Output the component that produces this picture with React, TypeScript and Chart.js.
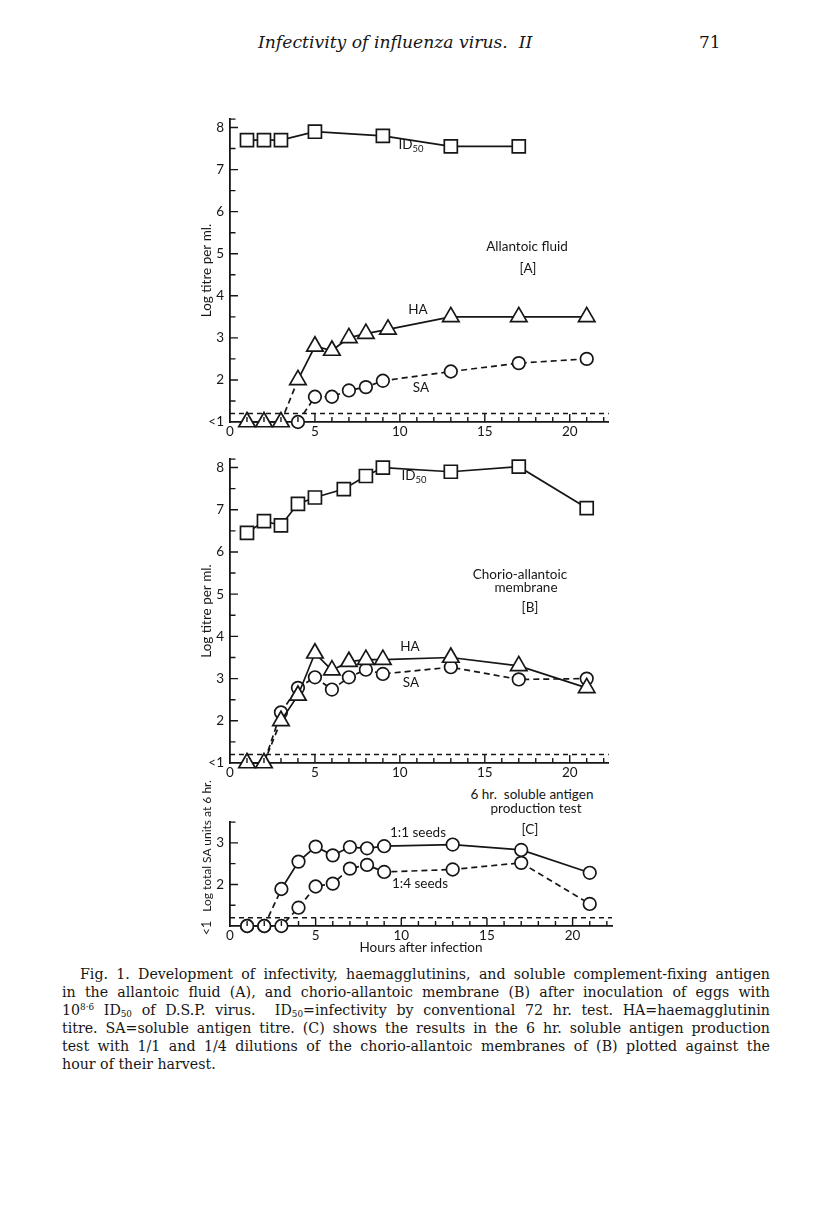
import React, { useEffect, useRef } from 'react';
import { Chart, registerables } from 'chart.js';
Chart.register(...registerables);

// ---------- DATA ----------
// Panel A: allantoic fluid
const hoursA_ID = [1, 2, 3, 5, 9, 13, 17];
const titreA_ID = [7.7, 7.7, 7.7, 7.9, 7.8, 7.55, 7.55];
const hoursA_HA = [1, 2, 3, 4, 5, 6, 7, 8, 9.3, 13, 17, 21];
const titreA_HA = [1, 1, 1, 2.0, 2.8, 2.7, 3.0, 3.1, 3.2, 3.5, 3.5, 3.5];
const hoursA_SA = [4, 5, 6, 7, 8, 9, 13, 17, 21];
const titreA_SA = [1, 1.6, 1.6, 1.75, 1.83, 1.98, 2.2, 2.4, 2.5];

// Panel B: chorio-allantoic membrane
const hoursB_ID = [1, 2, 3, 4, 5, 6.7, 8, 9, 13, 17, 21];
const titreB_ID = [6.45, 6.73, 6.63, 7.14, 7.29, 7.49, 7.8, 8.0, 7.9, 8.02, 7.04];
const hoursB_HA = [1, 2, 3, 4, 5, 6, 7, 8, 9, 13, 17, 21];
const titreB_HA = [1, 1, 2.0, 2.6, 3.6, 3.2, 3.4, 3.45, 3.45, 3.5, 3.3, 2.78];
const hoursB_SA = [1, 2, 3, 4, 5, 6, 7, 8, 9, 13, 17, 21];
const titreB_SA = [1, 1, 2.2, 2.78, 3.03, 2.74, 3.03, 3.21, 3.11, 3.27, 2.98, 3.0];

// Panel C: 6 hr soluble antigen production test
const hoursC = [1, 2, 3, 4, 5, 6, 7, 8, 9, 13, 17, 21];
const unitsC_11 = [1, 1, 1.89, 2.55, 2.91, 2.7, 2.9, 2.87, 2.92, 2.96, 2.83, 2.28];
const unitsC_14 = [1, 1, 1, 1.44, 1.95, 2.02, 2.38, 2.47, 2.3, 2.36, 2.52, 1.53];

// axes
const hourMin = 0;
const hourMax = 22.3;
const hourLabels = [0, 5, 10, 15, 20];
const titreMinAB = 1;
const titreMaxAB = 8.2;
const unitsMinC = 1;
const unitsMaxC = 3.5;
const thresholdLevel = 1.2;
const lowLabel = '<1';

// ---------- helpers ----------
const INK = '#161616';
const pts = (xs: number[], ys: number[]) => xs.map((x, i) => ({ x, y: ys[i] }));

const innerTicks = {
  id: 'innerTicks',
  afterDraw(chart: any) {
    const ctx = chart.ctx;
    const { left, bottom } = chart.chartArea;
    const xs = chart.scales.x;
    const ys = chart.scales.y;
    ctx.save();
    ctx.strokeStyle = INK;
    ctx.lineWidth = 1.4;
    ctx.beginPath();
    ys.ticks.forEach((t: any) => {
      if (t.value === ys.min) return;
      const py = ys.getPixelForValue(t.value);
      const major = Number.isInteger(t.value);
      ctx.moveTo(left, py);
      ctx.lineTo(left + (major ? 8 : 5.5), py);
    });
    xs.ticks.forEach((t: any) => {
      if (t.value === xs.min) return;
      const px = xs.getPixelForValue(t.value);
      const major = t.value % 5 === 0;
      ctx.moveTo(px, bottom);
      ctx.lineTo(px, bottom - (major ? 8 : 5));
    });
    ctx.stroke();
    ctx.restore();
  },
};

const dashAll = [6, 4];
const lineBase = {
  borderColor: INK,
  borderWidth: 1.7,
  pointBackgroundColor: '#fff',
  pointBorderColor: INK,
  pointBorderWidth: 1.7,
  tension: 0,
  clip: false as const,
};

function series(data: any[], style: string, radius: number | number[], dashedSegs: number[] | 'all') {
  return {
    ...lineBase,
    data,
    pointStyle: style,
    pointRadius: radius,
    borderDash: dashedSegs === 'all' ? dashAll : [],
    segment: dashedSegs === 'all' ? undefined : {
      borderDash: (ctx: any) => (dashedSegs.includes(ctx.p0DataIndex) ? dashAll : undefined),
    },
  };
}

function thresholdSeries() {
  return {
    data: [{ x: hourMin, y: thresholdLevel }, { x: hourMax, y: thresholdLevel }],
    borderColor: INK,
    borderWidth: 1.5,
    borderDash: [5, 4],
    pointRadius: 0,
    clip: false as const,
  };
}

const tickFont = { family: 'Lato', size: 13.5 };

function makeConfig(datasets: any[], yMin: number, yMax: number, yTitle: string | null, xTitle: string | null, xAxisH: number, showLow: boolean) {
  return {
    type: 'line',
    data: { datasets },
    plugins: [innerTicks],
    options: {
      animation: false,
      responsive: false,
      events: [],
      layout: { padding: { top: 10, right: 8, left: 0, bottom: 0 } },
      plugins: { legend: { display: false }, tooltip: { enabled: false } },
      scales: {
        x: {
          type: 'linear',
          min: hourMin,
          max: hourMax,
          bounds: 'data',
          grid: { display: false, drawTicks: false },
          border: { display: true, color: INK, width: 1.8 },
          ticks: {
            stepSize: 1,
            includeBounds: false,
            autoSkip: false,
            maxRotation: 0,
            padding: 2,
            color: INK,
            font: tickFont,
            callback: (v: number) => (hourLabels.includes(v) ? String(v) : ''),
          },
          title: xTitle
            ? { display: true, text: xTitle, color: INK, font: { family: 'Lato', size: 13.5 }, padding: { top: 0, bottom: 5 } }
            : { display: false },
          afterFit: (s: any) => { s.height = xAxisH; },
        },
        y: {
          type: 'linear',
          min: yMin,
          max: yMax,
          bounds: 'data',
          grid: { display: false, drawTicks: false },
          border: { display: true, color: INK, width: 1.8 },
          ticks: {
            stepSize: 0.5,
            includeBounds: false,
            autoSkip: false,
            padding: 6,
            color: INK,
            font: tickFont,
            callback: (v: number) => (v === yMin ? (showLow ? lowLabel : '') : Number.isInteger(v) ? String(v) : ''),
          },
          title: yTitle
            ? { display: true, text: yTitle, color: INK, font: { family: 'Lato', size: 13.5 }, padding: { top: 49, bottom: 0 } }
            : { display: false },
          afterFit: (s: any) => { s.width = 80; },
        },
      },
    },
  };
}

const configA = makeConfig(
  [
    series(pts(hoursA_ID, titreA_ID), 'rect', 9.2, []),
    series(pts(hoursA_HA, titreA_HA), 'triangle', 9.5, [2]),
    series(pts(hoursA_SA, titreA_SA), 'circle', 6.3, 'all'),
    thresholdSeries(),
  ],
  titreMinAB, titreMaxAB, 'Log titre per ml.', null, 22, true,
);

const configB = makeConfig(
  [
    series(pts(hoursB_ID, titreB_ID), 'rect', 9.2, []),
    series(pts(hoursB_HA, titreB_HA), 'triangle', 9.5, [1]),
    series(pts(hoursB_SA, titreB_SA), 'circle', hoursB_SA.map((_, i) => (i < 2 ? 0 : 6.3)), 'all'),
    thresholdSeries(),
  ],
  titreMinAB, titreMaxAB, 'Log titre per ml.', null, 22, true,
);

const configC = makeConfig(
  [
    series(pts(hoursC, unitsC_11), 'circle', 6.3, [1]),
    series(pts(hoursC, unitsC_14), 'circle', 6.3, 'all'),
    thresholdSeries(),
  ],
  unitsMinC, unitsMaxC, null, 'Hours after infection', 35, false,
);

function ChartCanvas({ config, left, top, width, height }: any) {
  const ref = useRef<HTMLCanvasElement>(null);
  useEffect(() => {
    const c = new Chart(ref.current as HTMLCanvasElement, config as any);
    return () => c.destroy();
  }, []);
  return (
    <canvas
      ref={ref}
      width={width}
      height={height}
      style={{ position: 'absolute', left, top, width, height }}
    />
  );
}

const sans = 'Lato, "Open Sans", sans-serif';

function Label({ x, y, children, size = 13.5 }: any) {
  return (
    <div
      style={{
        position: 'absolute', left: x, top: y, transform: 'translate(-50%, -50%)',
        fontFamily: sans, fontSize: size, color: INK, whiteSpace: 'nowrap', lineHeight: 1,
      }}
    >
      {children}
    </div>
  );
}

const ID50 = () => (
  <span>ID<span style={{ fontSize: '0.7em', position: 'relative', top: '0.3em' }}>50</span></span>
);

const supS = { fontSize: '0.62em', lineHeight: 0, position: 'relative' as const, top: '-0.55em', verticalAlign: 'baseline' };
const subS = { fontSize: '0.62em', lineHeight: 0, position: 'relative' as const, top: '0.3em', verticalAlign: 'baseline' };

const captionLines: React.ReactNode[] = [
  'Fig. 1. Development of infectivity, haemagglutinins, and soluble complement-fixing antigen',
  'in the allantoic fluid (A), and chorio-allantoic membrane (B) after inoculation of eggs with',
  <>10<span style={supS}>8·6</span> ID<span style={subS}>50</span> of D.S.P. virus.&nbsp; ID<span style={subS}>50</span>=infectivity by conventional 72 hr. test. HA=haemagglutinin</>,
  'titre. SA=soluble antigen titre. (C) shows the results in the 6 hr. soluble antigen production',
  'test with 1/1 and 1/4 dilutions of the chorio-allantoic membranes of (B) plotted against the',
  'hour of their harvest.',
];

export default function App() {
  return (
    <div style={{ position: 'absolute', left: 0, top: 0, width: 816, height: 1224, background: '#fff', overflow: 'hidden' }}>
      <div style={{ position: 'absolute', left: 258, top: 30, fontFamily: '"DejaVu Serif", serif', fontStyle: 'italic', fontSize: 17.2, lineHeight: '24px', color: INK }}>
        Infectivity of influenza virus.&nbsp; II
      </div>
      <div style={{ position: 'absolute', left: 699, top: 30, fontFamily: '"DejaVu Serif", serif', fontSize: 17, lineHeight: '24px', color: INK }}>
        71
      </div>

      <ChartCanvas config={configA} left={150} top={105} width={470} height={339} />
      <ChartCanvas config={configB} left={150} top={445} width={470} height={340} />
      <ChartCanvas config={configC} left={150} top={808} width={470} height={153} />

      {/* Panel A labels */}
      <Label x={411} y={145}><ID50 /></Label>
      <Label x={527} y={247}>Allantoic fluid</Label>
      <Label x={528} y={269}>[A]</Label>
      <Label x={418} y={310}>HA</Label>
      <Label x={421} y={388}>SA</Label>

      {/* Panel B labels */}
      <Label x={414} y={476}><ID50 /></Label>
      <Label x={520} y={575}>Chorio-allantoic</Label>
      <Label x={526} y={588}>membrane</Label>
      <Label x={530} y={608}>[B]</Label>
      <Label x={410} y={647}>HA</Label>
      <Label x={411} y={683}>SA</Label>

      {/* Panel C labels */}
      <Label x={532} y={795}>6 hr.&nbsp; soluble antigen</Label>
      <Label x={536} y={809}>production test</Label>
      <Label x={530} y={830}>[C]</Label>
      <Label x={418} y={833}>1:1 seeds</Label>
      <Label x={420} y={884}>1:4 seeds</Label>
      <div style={{ position: 'absolute', left: 207, top: 846, transform: 'translate(-50%, -50%) rotate(-90deg)', fontFamily: sans, fontSize: 12, color: INK, whiteSpace: 'nowrap', lineHeight: 1 }}>
        Log total SA units at 6 hr.
      </div>
      <div style={{ position: 'absolute', left: 207, top: 928, transform: 'translate(-50%, -50%) rotate(-90deg)', fontFamily: sans, fontSize: 12.5, color: INK, whiteSpace: 'nowrap', lineHeight: 1 }}>
        {lowLabel}
      </div>

      {/* Caption */}
      <div style={{ position: 'absolute', left: 62, top: 966, width: 708, fontFamily: '"DejaVu Serif", serif', fontSize: 14.2, lineHeight: '17.9px', color: INK }}>
        {captionLines.map((ln, i) => (
          <div
            key={i}
            style={{
              textAlign: 'justify',
              textAlignLast: i === captionLines.length - 1 ? 'left' : 'justify',
              textIndent: i === 0 ? 18 : 0,
              whiteSpace: 'normal',
            }}
          >
            {ln}
          </div>
        ))}
      </div>
    </div>
  );
}
